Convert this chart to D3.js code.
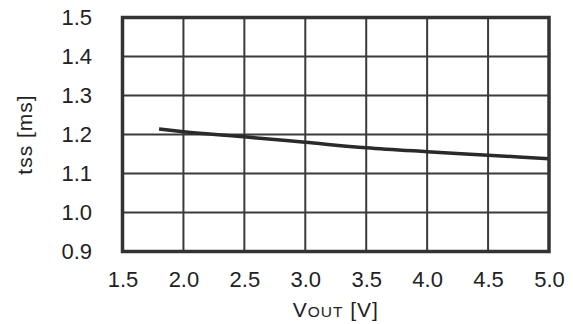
<!DOCTYPE html>
<html><head><meta charset="utf-8">
<script src="https://cdn.jsdelivr.net/npm/d3@7"></script>
<style>body{margin:0;background:#fff}svg{display:block}text{font-family:"Liberation Sans",Arial,sans-serif;fill:#222}</style>
</head><body>
<script>
const vout = [1.8, 2.0, 2.5, 3.0, 3.5, 4.0, 4.5, 5.0];
const tss  = [1.214, 1.207, 1.194, 1.180, 1.166, 1.156, 1.147, 1.138];
const xTicks = [1.5, 2.0, 2.5, 3.0, 3.5, 4.0, 4.5, 5.0];
const yTicks = [0.9, 1.0, 1.1, 1.2, 1.3, 1.4, 1.5];

const W = 573, H = 324;
const m = {l:122.5, r:W-549, t:17.5, b:H-251.5};
const svg = d3.select("body").append("svg").attr("width",W).attr("height",H);
const x = d3.scaleLinear().domain([1.5,5.0]).range([m.l, W-m.r]);
const y = d3.scaleLinear().domain([0.9,1.5]).range([H-m.b, m.t]);

// grid
const g = svg.append("g");
g.selectAll(".vx").data(xTicks.slice(1,-1)).join("line")
  .attr("x1",d=>x(d)).attr("x2",d=>x(d)).attr("y1",y(0.9)).attr("y2",y(1.5))
  .attr("stroke","#3a3a3a").attr("stroke-width",2);
g.selectAll(".hy").data(yTicks.slice(1,-1)).join("line")
  .attr("y1",d=>y(d)).attr("y2",d=>y(d)).attr("x1",x(1.5)).attr("x2",x(5.0))
  .attr("stroke","#3a3a3a").attr("stroke-width",2);

// curve
svg.append("path").datum(vout.map((v,i)=>[v,tss[i]]))
  .attr("d", d3.line().x(d=>x(d[0])).y(d=>y(d[1])).curve(d3.curveMonotoneX))
  .attr("fill","none").attr("stroke","#2a2a2a").attr("stroke-width",3.5);

// frame
svg.append("rect").attr("x",x(1.5)).attr("y",y(1.5))
  .attr("width",x(5.0)-x(1.5)).attr("height",y(0.9)-y(1.5))
  .attr("fill","none").attr("stroke","#333").attr("stroke-width",3.5);

// axes labels
const xa = svg.append("g").attr("transform",`translate(0,${H-m.b})`)
  .call(d3.axisBottom(x).tickValues(xTicks).tickFormat(d3.format(".1f")).tickSize(0).tickPadding(20));
xa.select(".domain").remove();
xa.selectAll("text").attr("font-size",22).style("fill","#222");
const ya = svg.append("g").attr("transform",`translate(${m.l},0)`)
  .call(d3.axisLeft(y).tickValues(yTicks).tickFormat(d3.format(".1f")).tickSize(0).tickPadding(30.5));
ya.select(".domain").remove();
ya.selectAll("text").attr("font-size",22).style("fill","#222");
svg.selectAll(".tick text").attr("font-family","Liberation Sans, Arial, sans-serif");

// titles
const xt = svg.append("text").attr("x",(x(1.5)+x(5.0))/2).attr("y",317.3)
  .attr("text-anchor","middle").attr("font-size",21).attr("letter-spacing",1);
xt.append("tspan").text("V");
xt.append("tspan").attr("font-size",15.5).text("OUT");
xt.append("tspan").text(" [V]");

svg.append("text").attr("transform",`translate(32,${(y(0.9)+y(1.5))/2}) rotate(-90)`)
  .attr("text-anchor","middle").attr("font-size",21).attr("letter-spacing",1).text("tss [ms]");
</script>
</body></html>
